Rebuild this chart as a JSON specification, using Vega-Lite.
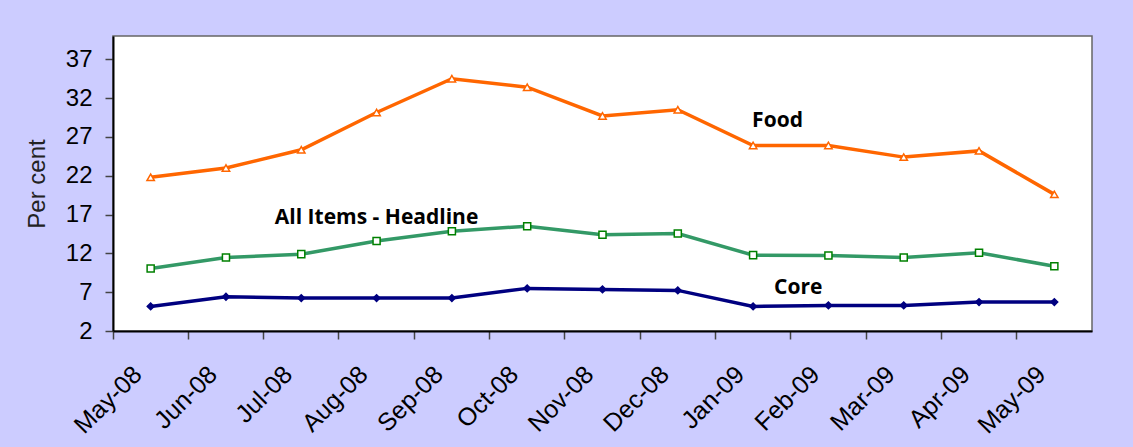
{
  "$schema": "https://vega.github.io/schema/vega-lite/v6.json",
  "width": 979,
  "height": 295,
  "autosize": {"type": "none"},
  "padding": {"left": 113, "top": 36, "right": 41, "bottom": 116},
  "background": "#CCCCFF",
  "config": {
    "view": {"fill": "white", "stroke": "#666666", "strokeWidth": 1.5},
    "font": "Liberation Sans"
  },
  "datasets": {
    "series": [
      {"month": "May-08", "series": "Food", "value": 21.8},
      {"month": "Jun-08", "series": "Food", "value": 23.0},
      {"month": "Jul-08", "series": "Food", "value": 25.35},
      {"month": "Aug-08", "series": "Food", "value": 30.15},
      {"month": "Sep-08", "series": "Food", "value": 34.5},
      {"month": "Oct-08", "series": "Food", "value": 33.4},
      {"month": "Nov-08", "series": "Food", "value": 29.7},
      {"month": "Dec-08", "series": "Food", "value": 30.5},
      {"month": "Jan-09", "series": "Food", "value": 25.9},
      {"month": "Feb-09", "series": "Food", "value": 25.9},
      {"month": "Mar-09", "series": "Food", "value": 24.4},
      {"month": "Apr-09", "series": "Food", "value": 25.2},
      {"month": "May-09", "series": "Food", "value": 19.6},
      {"month": "May-08", "series": "All Items", "value": 10.06},
      {"month": "Jun-08", "series": "All Items", "value": 11.47},
      {"month": "Jul-08", "series": "All Items", "value": 11.9},
      {"month": "Aug-08", "series": "All Items", "value": 13.6},
      {"month": "Sep-08", "series": "All Items", "value": 14.85},
      {"month": "Oct-08", "series": "All Items", "value": 15.5},
      {"month": "Nov-08", "series": "All Items", "value": 14.4},
      {"month": "Dec-08", "series": "All Items", "value": 14.56},
      {"month": "Jan-09", "series": "All Items", "value": 11.77},
      {"month": "Feb-09", "series": "All Items", "value": 11.73},
      {"month": "Mar-09", "series": "All Items", "value": 11.47},
      {"month": "Apr-09", "series": "All Items", "value": 12.07},
      {"month": "May-09", "series": "All Items", "value": 10.35},
      {"month": "May-08", "series": "Core", "value": 5.17},
      {"month": "Jun-08", "series": "Core", "value": 6.41},
      {"month": "Jul-08", "series": "Core", "value": 6.24},
      {"month": "Aug-08", "series": "Core", "value": 6.24},
      {"month": "Sep-08", "series": "Core", "value": 6.24},
      {"month": "Oct-08", "series": "Core", "value": 7.49},
      {"month": "Nov-08", "series": "Core", "value": 7.36},
      {"month": "Dec-08", "series": "Core", "value": 7.23},
      {"month": "Jan-09", "series": "Core", "value": 5.17},
      {"month": "Feb-09", "series": "Core", "value": 5.3},
      {"month": "Mar-09", "series": "Core", "value": 5.3},
      {"month": "Apr-09", "series": "Core", "value": 5.73},
      {"month": "May-09", "series": "Core", "value": 5.73}
    ],
    "labels": [
      {"label": "Food", "month": "Jan-09", "value": 28.26},
      {"label": "All Items - Headline", "month": "Aug-08", "value": 15.84},
      {"label": "Core", "month": "Jan-09", "value": 6.72}
    ]
  },
  "encoding": {
    "x": {
      "field": "month",
      "type": "ordinal",
      "sort": ["May-08","Jun-08","Jul-08","Aug-08","Sep-08","Oct-08","Nov-08","Dec-08","Jan-09","Feb-09","Mar-09","Apr-09","May-09"],
      "scale": {"type": "band", "paddingInner": 0, "paddingOuter": 0},
      "axis": {
        "title": null,
        "bandPosition": 0,
        "labelAngle": -45,
        "labelAlign": "right",
        "labelBaseline": "middle",
        "labelOffset": -13,
        "labelPadding": 31,
        "labelFontSize": 25,
        "labelColor": "black",
        "labelFont": "Liberation Sans",
        "tickSize": 8,
        "tickColor": "#444444",
        "tickWidth": 1.5,
        "domainColor": "black",
        "domainWidth": 2,
        "grid": false
      }
    },
    "y": {
      "field": "value",
      "type": "quantitative",
      "scale": {"domain": [2, 40], "nice": false, "zero": false},
      "axis": {
        "title": "Per cent",
        "titleFontSize": 24,
        "titleFontWeight": "normal",
        "titleColor": "#222222",
        "titleFont": "Liberation Sans",
        "titlePadding": 16,
        "values": [2, 7, 12, 17, 22, 27, 32, 37],
        "labelFontSize": 24,
        "labelColor": "black",
        "labelFont": "Liberation Sans",
        "labelPadding": 13,
        "tickSize": 8,
        "tickColor": "#444444",
        "tickWidth": 1.5,
        "domainColor": "black",
        "domainWidth": 2,
        "grid": false
      }
    }
  },
  "layer": [
    {
      "data": {"name": "series"},
      "mark": {"type": "line", "strokeWidth": 3.5},
      "encoding": {
        "color": {
          "field": "series",
          "type": "nominal",
          "scale": {"domain": ["Food", "All Items", "Core"], "range": ["#FF6600", "#339966", "#000080"]},
          "legend": null
        }
      }
    },
    {
      "data": {"name": "series"},
      "mark": {"type": "point", "filled": false, "strokeWidth": 1.5, "opacity": 1},
      "encoding": {
        "shape": {
          "field": "series",
          "type": "nominal",
          "scale": {"domain": ["Food", "All Items", "Core"], "range": ["triangle-up", "square", "diamond"]},
          "legend": null
        },
        "stroke": {
          "field": "series",
          "type": "nominal",
          "scale": {"domain": ["Food", "All Items", "Core"], "range": ["#FF6600", "#008000", "#000080"]},
          "legend": null
        },
        "fill": {
          "field": "series",
          "type": "nominal",
          "scale": {"domain": ["Food", "All Items", "Core"], "range": ["white", "white", "#000080"]},
          "legend": null
        },
        "size": {
          "field": "series",
          "type": "nominal",
          "scale": {"domain": ["Food", "All Items", "Core"], "range": [55, 45, 40]},
          "legend": null
        }
      }
    },
    {
      "data": {"name": "labels"},
      "transform": [{"filter": "datum.label === 'Food'"}],
      "mark": {"type": "text", "align": "left", "baseline": "alphabetic", "font": "Open Sans", "fontWeight": "bold", "fontSize": 21, "color": "black", "dx": -1},
      "encoding": {"text": {"field": "label"}}
    },
    {
      "data": {"name": "labels"},
      "transform": [{"filter": "datum.label === 'Core'"}],
      "mark": {"type": "text", "align": "left", "baseline": "alphabetic", "font": "Open Sans", "fontWeight": "bold", "fontSize": 21, "color": "black", "dx": 21},
      "encoding": {"text": {"field": "label"}}
    },
    {
      "data": {"name": "labels"},
      "transform": [{"filter": "datum.label === 'All Items - Headline'"}],
      "mark": {"type": "text", "align": "center", "baseline": "alphabetic", "font": "Open Sans", "fontWeight": "bold", "fontSize": 21, "color": "black"},
      "encoding": {"text": {"field": "label"}}
    }
  ]
}
